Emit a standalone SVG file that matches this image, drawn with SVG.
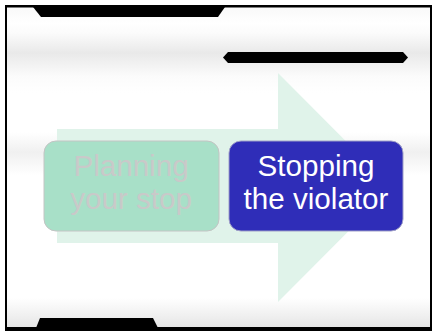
<svg xmlns="http://www.w3.org/2000/svg" width="435" height="331" viewBox="0 0 435 331">
  <defs>
    <linearGradient id="bg" x1="0" y1="0" x2="0" y2="331" gradientUnits="userSpaceOnUse">
      <stop offset="0" stop-color="#f6f6f6"/>
      <stop offset="0.07" stop-color="#ffffff"/>
      <stop offset="0.10" stop-color="#fbfbfb"/>
      <stop offset="0.16" stop-color="#e9e9e9"/>
      <stop offset="0.23" stop-color="#fbfbfb"/>
      <stop offset="0.28" stop-color="#ffffff"/>
      <stop offset="0.40" stop-color="#ffffff"/>
      <stop offset="0.46" stop-color="#f0f0f0"/>
      <stop offset="0.53" stop-color="#ffffff"/>
      <stop offset="0.90" stop-color="#ffffff"/>
      <stop offset="0.98" stop-color="#e8e8e8"/>
      <stop offset="1" stop-color="#e0e0e0"/>
    </linearGradient>
    <style>
      .box { stroke-width: 1; }
      .lbl { font-family: "Liberation Sans", Arial, sans-serif; font-size: 29.6px; text-anchor: middle; }
    </style>
  </defs>

  <!-- background -->
  <rect x="0" y="0" width="435" height="331" fill="#ffffff"/>
  <rect x="6" y="6" width="425" height="322" fill="url(#bg)"/>

  <!-- frame -->
  <g id="frame" fill="#000000">
    <rect x="5" y="5" width="427" height="2.5"/>
    <rect x="5" y="5" width="2" height="326"/>
    <rect x="430" y="5" width="2" height="326"/>
    <rect x="5" y="327" width="427" height="4"/>
    <polygon points="33,7 225,7 218,17 41,17"/>
    <polygon points="40,318 153,318 158,328 36,328"/>
    <polygon points="223,57.5 228,52 403,52 408,57.5 403,63 228,63"/>
  </g>

  <!-- big background arrow -->
  <g id="arrow">
    <polygon points="57,129 278,129 278,73 392,187.5 278,302 278,243 57,243" fill="#e0f3ea"/>
  </g>

  <g id="node-planning">
    <rect class="box" x="44" y="141" width="175" height="90" rx="12" ry="12" fill="#a8e0c8" stroke="#c4c4c4"/>
    <text class="lbl" fill="#c9c9c9"><tspan x="131" y="176">Planning</tspan><tspan x="131" y="209">your stop</tspan></text>
  </g>

  <g id="node-stopping">
    <rect class="box" x="229" y="141" width="174" height="90" rx="12" ry="12" fill="#2f2db8" stroke="#a0a0c8"/>
    <text class="lbl" fill="#ffffff"><tspan x="316" y="176">Stopping</tspan><tspan x="316" y="209">the violator</tspan></text>
  </g>

  <g id="connectors"></g>
</svg>
